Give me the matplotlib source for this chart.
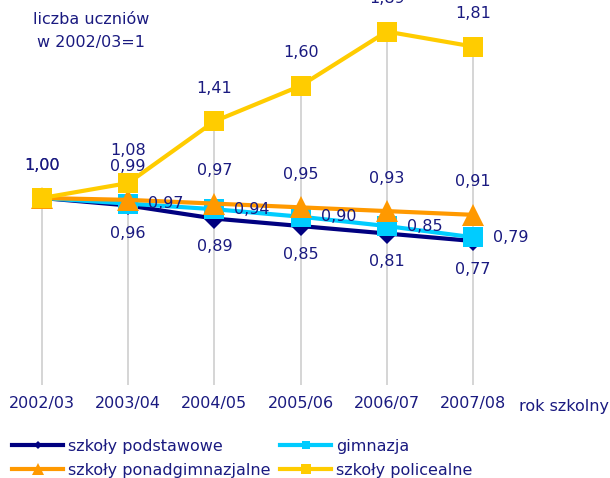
import matplotlib
matplotlib.use("Agg")
import matplotlib.pyplot as plt
from matplotlib.lines import Line2D

# ---- data ----
categories = ["2002/03", "2003/04", "2004/05", "2005/06", "2006/07", "2007/08"]
podstawowe = [1.00, 0.96, 0.89, 0.85, 0.81, 0.77]
gimnazja = [1.00, 0.97, 0.94, 0.90, 0.85, 0.79]
ponadgimnazjalne = [1.00, 0.99, 0.97, 0.95, 0.93, 0.91]
policealne = [1.00, 1.08, 1.41, 1.60, 1.89, 1.81]
series_names = ["szkoły podstawowe", "gimnazja", "szkoły ponadgimnazjalne", "szkoły policealne"]
note = "liczba uczniów\nw 2002/03=1"
xlabel = "rok szkolny"

TXT = "#1a1a80"
FS = 11.5
plt.rcParams['font.family'] = ['DejaVu Sans']

W, H = 610, 478
fig = plt.figure(figsize=(W / 100, H / 100), dpi=100)

# axes: value 0 at y=386 px from top, 187.5 px per unit; x=0 at 42 px, 86.2 px per category
x0px, xs = 42.0, 86.2
y0px, ys = 385.0, 187.0
ax = fig.add_axes([0, (H - y0px) / H, 1, y0px / H])
ax.set_xlim(-x0px / xs, (W - x0px) / xs)
ax.set_ylim(0, y0px / ys)
for s in ax.spines.values():
    s.set_visible(False)
ax.set_yticks([])

x = list(range(len(categories)))
all_series = [podstawowe, gimnazja, ponadgimnazjalne, policealne]
tops = [max(vals) for vals in zip(*all_series)]
ax.vlines(x, 0, tops, color="#d2d2d2", lw=1.3, zorder=1)

styles = [
    dict(color="#000080", marker="D", ms=10.5),
    dict(color="#00ccff", marker="s", ms=14.5),
    dict(color="#ff9900", marker="^", ms=15.5),
    dict(color="#ffcc00", marker="s", ms=15),
]
for i, (vals, st) in enumerate(zip(all_series, styles)):
    ax.plot(x, vals, color=st["color"], lw=3, marker=st["marker"], ms=st["ms"],
            mew=0, zorder=2 + i, solid_joinstyle="miter")

def fmt(v):
    return f"{v:.2f}".replace(".", ",")

# data labels (offsets in points)
def label(xi, v, dx, dy, ha="center"):
    ax.annotate(fmt(v), (xi, v), xytext=(dx, dy), textcoords="offset points",
                ha=ha, va="center", fontsize=FS, color=TXT, zorder=10,
                annotation_clip=False)

for xi, v in zip(x[1:], podstawowe[1:]):
    label(xi, v, 0, -28 / 1.389)
for xi, v in zip(x[1:], gimnazja[1:]):
    label(xi, v, 20 / 1.389, 0, ha="left")
for xi, v in zip(x, ponadgimnazjalne):
    label(xi, v, 0, 33 / 1.389)
for xi, v in zip(x, policealne):
    label(xi, v, 0, 33 / 1.389)

ax.set_xticks(x)
ax.set_xticklabels(categories, fontsize=FS, color=TXT)
ax.tick_params(axis="x", length=0, pad=8)

fig.text(519 / W, (H - 407) / H, xlabel, fontsize=FS, color=TXT, ha="left", va="center")
fig.text(91 / W, (H - 31) / H, note, fontsize=FS, color=TXT, ha="center", va="center",
         linespacing=1.7)

handles = [
    Line2D([], [], color=styles[0]["color"], lw=3, marker="D", ms=4, mew=0),
    Line2D([], [], color=styles[2]["color"], lw=3, marker="^", ms=8, mew=0),
    Line2D([], [], color=styles[1]["color"], lw=3, marker="s", ms=6, mew=0),
    Line2D([], [], color=styles[3]["color"], lw=3, marker="s", ms=6.5, mew=0),
]
labels = [series_names[0], series_names[2], series_names[1], series_names[3]]
leg = fig.legend(handles, labels, loc="upper left", bbox_to_anchor=(12 / W, (H - 439) / H),
                 ncol=2, frameon=False, fontsize=FS, borderpad=0, borderaxespad=0,
                 handlelength=3.2, handletextpad=0.3, columnspacing=0.6,
                 labelspacing=0.55)
for t in leg.get_texts():
    t.set_color(TXT)

fig.savefig("out.png", dpi=100)
